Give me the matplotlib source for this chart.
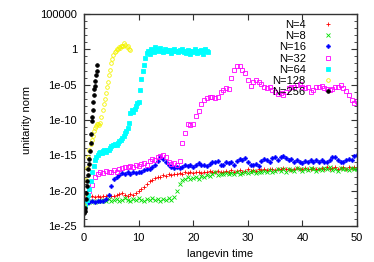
import numpy as np
import matplotlib
matplotlib.use('Agg')
import matplotlib.pyplot as plt
from matplotlib.ticker import FixedLocator, FixedFormatter, NullLocator, NullFormatter

plt.rcParams['font.family'] = ['Liberation Sans', 'DejaVu Sans']
plt.rcParams['font.size'] = 8

# values, stored as log10(unitarity norm)
labels = ['N=4', 'N=8', 'N=16', 'N=32', 'N=64', 'N=128', 'N=256']

n4_log = [-22.0, -21.2, -20.9, -20.8, -20.9, -20.8, -20.9, -20.7, -20.8, -20.6,
          -20.8, -20.7, -20.6, -20.5, -20.3, -20.6, -20.7, -20.5, -20.6, -20.4,
          -20.1, -19.8, -19.5, -19.0, -18.6, -18.5, -18.2, -18.1, -18.0, -17.8,
          -17.9, -17.7, -17.8, -17.6, -17.7, -17.5, -17.6, -17.4, -17.5, -17.4,
          -17.5, -17.3, -17.4, -17.5, -17.3, -17.4, -17.2, -17.4, -17.3, -17.2,
          -17.4, -17.3, -17.2, -17.3, -17.1, -17.3, -17.2, -17.1, -17.3, -17.2,
          -17.0, -17.2, -17.1, -17.2, -17.0, -17.1, -16.9, -17.1, -17.0, -16.9,
          -17.1, -16.9, -17.0, -16.8, -17.0, -16.9, -17.1, -16.9, -16.8, -17.0,
          -16.9, -16.8, -17.0, -16.9, -16.8, -16.9, -17.0, -16.8, -16.9, -16.7,
          -16.9, -16.8, -16.7, -16.9, -16.8, -16.7, -16.9, -16.7, -16.8, -16.6,
          -16.7]

n8_log = [-22.3, -21.8, -21.6, -21.5, -21.6, -21.4, -21.5, -21.3, -21.5, -21.2,
          -21.4, -21.3, -21.2, -21.4, -21.3, -21.1, -21.3, -21.4, -21.2, -21.3,
          -21.1, -21.3, -21.4, -21.2, -21.3, -21.1, -21.3, -21.2, -21.4, -21.2,
          -21.3, -21.1, -21.3, -20.9, -20.0, -19.1, -18.5, -18.3, -18.1, -18.4,
          -18.2, -18.0, -18.3, -17.9, -18.1, -17.8, -17.9, -17.6, -17.3, -17.8,
          -17.6, -17.7, -17.5, -17.7, -17.5, -17.6, -17.4, -17.6, -17.5, -17.3,
          -17.5, -17.4, -17.2, -17.5, -17.3, -17.4, -17.2, -17.4, -17.1, -17.3,
          -17.2, -16.9, -17.2, -17.0, -17.3, -16.9, -17.1, -17.2, -16.8, -17.0,
          -17.2, -16.9, -17.1, -16.8, -17.0, -17.2, -16.9, -17.1, -16.8, -17.0,
          -16.7, -17.1, -16.9, -17.2, -16.8, -17.0, -16.9, -17.1, -16.8, -17.0,
          -16.9]

n16_log = [-22.7, -21.8, -21.6, -21.5, -21.6, -21.5, -21.4, -21.5, -21.2, -20.6,
           -19.3, -18.4, -18.0, -17.8, -17.5, -17.6, -17.4, -17.6, -17.3, -17.5,
           -17.3, -17.4, -17.1, -16.9, -17.0, -16.6, -16.3, -15.8, -15.2, -15.5,
           -16.0, -16.4, -16.6, -16.8, -16.7, -16.8, -16.6, -16.4, -16.5, -16.4,
           -16.6, -16.3, -16.1, -16.4, -16.3, -16.5, -16.2, -15.9, -16.0, -15.8,
           -16.3, -16.4, -15.9, -16.1, -15.9, -16.3, -15.8, -15.5, -15.6, -15.4,
           -16.0, -16.3, -16.4, -16.2, -16.5, -15.8, -15.5, -15.6, -15.9, -15.4,
           -15.3, -15.6, -15.2, -15.1, -15.4, -15.7, -15.5, -15.9, -15.6, -16.0,
           -16.1, -15.8, -16.0, -15.6, -15.9, -15.7, -16.0, -15.6, -15.9, -16.0,
           -15.7, -15.3, -15.2, -15.6, -15.9, -16.0, -15.7, -15.5, -15.6, -15.1,
           -14.9]

n32_log = [-22.0, -21.0, -20.0, -19.2, -18.0, -17.6, -17.4, -17.5, -17.2, -17.3,
           -17.4, -17.1, -17.3, -17.0, -16.8, -16.6, -16.7, -16.5, -16.6, -16.3,
           -16.5, -16.2, -16.1, -16.3, -15.8, -15.5, -15.6, -15.3, -15.1, -14.9,
           -15.3, -15.9, -16.2, -16.1, -16.3, -15.8, -13.3, -11.8, -10.6, -10.7,
           -10.6, -9.5, -8.7, -7.8, -7.2, -6.9, -6.8, -6.7, -6.9, -6.7,
           -6.0, -5.7, -5.5, -5.6, -4.1, -2.9, -2.3, -2.4, -2.9, -3.4,
           -4.3, -5.2, -4.6, -4.3, -4.6, -4.9, -5.3, -5.5, -5.4, -5.7,
           -6.1, -6.3, -6.2, -6.4, -6.0, -5.5, -5.3, -5.4, -5.0, -4.9,
           -5.3, -5.5, -5.4, -6.1, -5.7, -5.3, -5.4, -5.2, -5.5, -5.6,
           -5.8, -5.6, -5.4, -5.3, -5.1, -5.5, -5.9, -6.5, -7.1, -7.6,
           -7.3]

n64_log = [-22.8, -22.0, -21.3, -20.6, -19.8, -18.6, -17.3, -16.5, -15.7, -15.3,
           -15.0, -14.6, -14.5, -14.6, -14.4, -14.3, -14.5, -14.2, -14.3, -14.0,
           -13.7, -13.5, -13.6, -13.4, -13.5, -13.2, -13.0, -12.9, -12.6, -12.3,
           -11.9, -11.6, -11.2, -10.4, -9.0, -8.6, -8.8, -8.5, -8.0, -7.6,
           -7.4, -5.8, -4.2, -3.0, -2.2, -1.2, -0.5, -0.3, -0.6, 0.1,
           -0.2, -0.4, 0.3, 0.0, -0.3, -0.1, 0.2, -0.2, -0.4, 0.0,
           -0.2, -0.1, -0.3, -0.1, -0.5, -0.2, 0.1, -0.3, -0.2, -0.4,
           -0.1, -0.3, 0.0, -0.4, -0.2, -0.5, -0.1, -0.3, -0.6, -0.2,
           -0.4, 0.0, -0.3, -0.5, -0.2, -0.4, -0.1, -0.7, -0.3, 0.1,
           -0.2, -0.4]

n128_log = [-22.0, -20.5, -18.5, -16.8, -15.3, -14.2, -13.4, -12.8, -12.2, -11.6,
            -11.1, -10.8, -10.6, -10.5, -10.7, -10.4, -9.6, -8.6, -7.8, -7.0,
            -6.2, -5.3, -4.6, -3.7, -2.9, -2.0, -1.4, -0.8, -0.4, -0.2,
            0.1, 0.0, 0.3, 0.2, 0.4, 0.5, 0.4, 0.9, 0.6, 0.3,
            0.5, 0.1, -0.1]

n256_log = [-23.2, -22.9, -22.4, -21.2, -20.4, -19.4, -18.6, -17.8, -16.9, -16.2,
            -15.5, -14.4, -13.3, -12.0, -10.2, -9.6, -8.6, -7.4, -6.4, -5.6,
            -5.2, -4.5, -3.6, -3.0, -2.2]

# langevin time steps of the saved configurations
t_long = np.arange(len(n4_log)) * 0.5
t64 = np.arange(len(n64_log)) * 0.25
t128 = np.arange(len(n128_log)) * 0.2
t256 = np.arange(len(n256_log)) * 0.1

ytick_vals = [1e5, 1, 1e-5, 1e-10, 1e-15, 1e-20, 1e-25]
ytick_labels = ['100000', '1', '1e-05', '1e-10', '1e-15', '1e-20', '1e-25']
yminor_vals = [10.0 ** k for k in range(-25, 6)]

series = [
    (t_long, n4_log, '+', '#ff0000', 'full'),
    (t_long, n8_log, 'x', '#00e000', 'full'),
    (t_long, n16_log, 'P', '#0000ff', 'full'),
    (t_long, n32_log, 's', '#ff00ff', 'none'),
    (t64, n64_log, 's', '#00ffff', 'full'),
    (t128, n128_log, 'o', '#f4f400', 'none'),
    (t256, n256_log, 'o', '#000000', 'full'),
]

fig = plt.figure(figsize=(3.74, 2.62), dpi=100)
ax = fig.add_axes([0.2246, 0.1374, 0.7300, 0.8092])

for (t, vals, mk, col, fs), lab in zip(series, labels):
    ax.plot(t, 10.0 ** np.array(vals), linestyle='none', marker=mk, color=col,
            fillstyle=fs, markersize=2.6, markeredgewidth=0.6, label=lab)

ax.set_yscale('log')
ax.set_xlim(0, 50)
ax.set_ylim(1e-25, 1e5)
ax.set_xticks([0, 10, 20, 30, 40, 50])
ax.xaxis.set_minor_locator(NullLocator())
ax.yaxis.set_major_locator(FixedLocator(ytick_vals))
ax.yaxis.set_major_formatter(FixedFormatter(ytick_labels))
ax.yaxis.set_minor_locator(FixedLocator(yminor_vals))
ax.yaxis.set_minor_formatter(NullFormatter())
ax.tick_params(which='both', direction='in', top=True, right=True, color='#333333')
ax.tick_params(which='major', length=4, width=0.8, pad=5)
ax.tick_params(which='minor', length=2.5, width=0.6)
for s in ax.spines.values():
    s.set_color('#333333')
    s.set_linewidth(1.0)

ax.set_xlabel('langevin time', labelpad=4)
ax.set_ylabel('unitarity norm', labelpad=6)

ax.legend(loc='upper right', bbox_to_anchor=(0.934, 0.972), frameon=False,
          markerfirst=False, numpoints=1, handlelength=2.0, handletextpad=1.0,
          labelspacing=0.11, borderpad=0.0, borderaxespad=0.0, markerscale=1.0)

fig.savefig('out.png', dpi=100)
